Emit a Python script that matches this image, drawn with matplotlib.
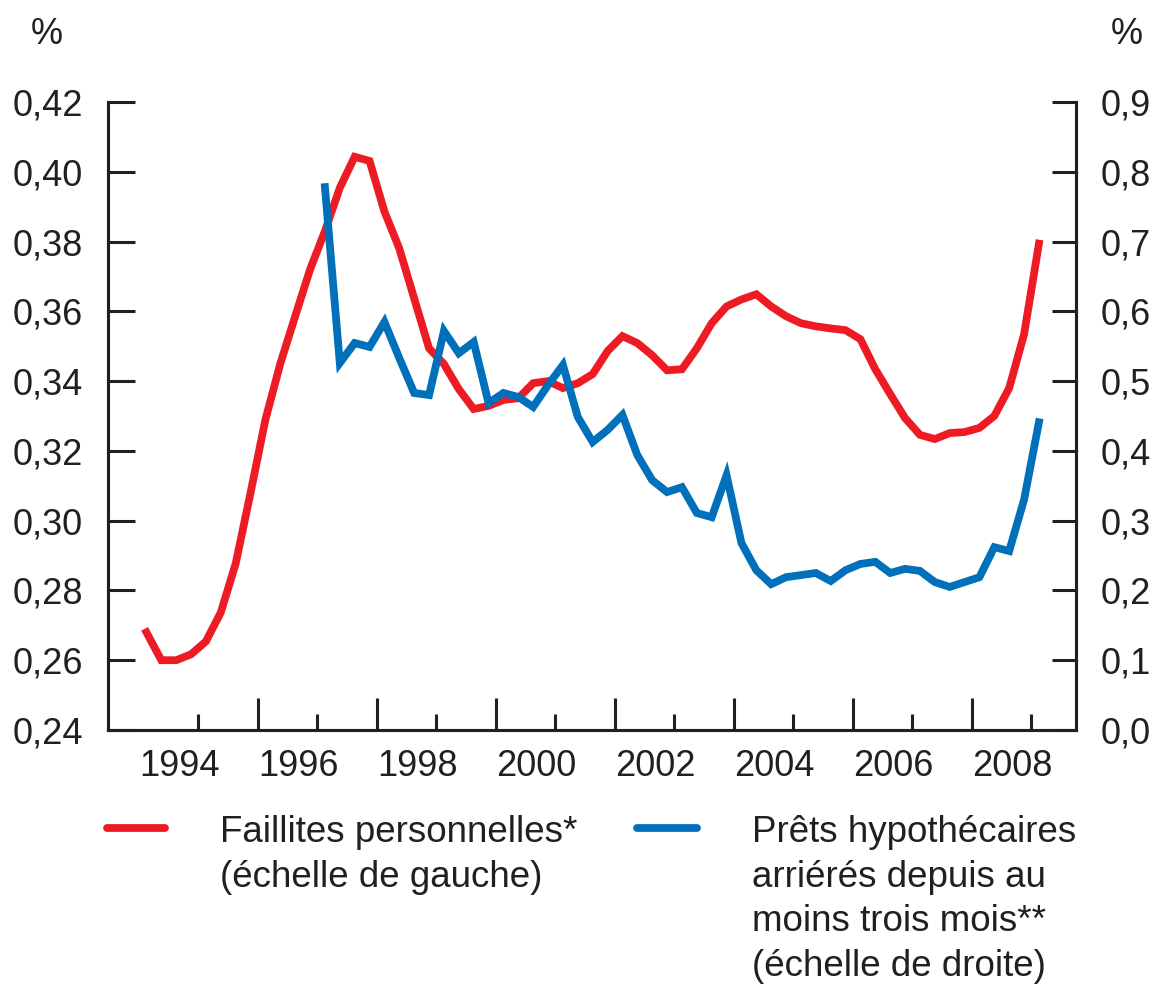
import matplotlib
matplotlib.use("Agg")
import matplotlib.pyplot as plt
from matplotlib.lines import Line2D
import numpy as np

plt.rcParams['font.family'] = ['Liberation Sans', 'DejaVu Sans']

# ---- data (quarterly, plotted at mid-quarter) ----
red_start = 1994.125   # 1994Q1
faillites = [0.268, 0.260, 0.260, 0.2617, 0.2654, 0.2737, 0.2877, 0.308,
             0.329, 0.345, 0.3586, 0.372, 0.383, 0.3954, 0.4043, 0.4031,
             0.3886, 0.378, 0.3637, 0.3494, 0.3449, 0.3377, 0.332, 0.3329,
             0.3346, 0.3351, 0.3394, 0.340, 0.338, 0.3394, 0.342, 0.3486,
             0.3529, 0.3509, 0.3474, 0.3431, 0.3434, 0.3494, 0.3566, 0.3614,
             0.3634, 0.3649, 0.3614, 0.3586, 0.3566, 0.3557, 0.3551, 0.3546,
             0.352, 0.3434, 0.3363, 0.3294, 0.3246, 0.3234, 0.3251, 0.3254,
             0.3266, 0.330, 0.338, 0.3534, 0.3794]

blue_start = 1997.125  # 1997Q1
prets = [0.778, 0.526, 0.5546, 0.549, 0.5847, 0.533, 0.483, 0.480,
         0.5718, 0.540, 0.556, 0.4686, 0.483, 0.4772, 0.463, 0.4944,
         0.523, 0.4486, 0.4127, 0.430, 0.4515, 0.394, 0.358, 0.341,
         0.348, 0.311, 0.305, 0.365, 0.268, 0.229, 0.209, 0.219,
         0.222, 0.225, 0.2135, 0.229, 0.238, 0.241, 0.225, 0.231,
         0.228, 0.212, 0.205, 0.212, 0.219, 0.262, 0.2565, 0.330, 0.441]

left_ticks = [0.24, 0.26, 0.28, 0.30, 0.32, 0.34, 0.36, 0.38, 0.40, 0.42]
left_labels = ["0,24", "0,26", "0,28", "0,30", "0,32", "0,34", "0,36", "0,38", "0,40", "0,42"]
right_ticks = [0.0, 0.1, 0.2, 0.3, 0.4, 0.5, 0.6, 0.7, 0.8, 0.9]
right_labels = ["0,0", "0,1", "0,2", "0,3", "0,4", "0,5", "0,6", "0,7", "0,8", "0,9"]
year_labels = [1994, 1996, 1998, 2000, 2002, 2004, 2006, 2008]
long_ticks = [1996, 1998, 2000, 2002, 2004, 2006, 2008]
short_ticks = [1995, 1997, 1999, 2001, 2003, 2005, 2007, 2009]

label_red = "Faillites personnelles*\n(échelle de gauche)"
label_blue = "Prêts hypothécaires\narriérés depuis au\nmoins trois mois**\n(échelle de droite)"

RED = "#ED1C24"
BLUE = "#0070BA"
INK = "#231f20"

x_red = red_start + 0.25 * np.arange(len(faillites))
x_blue = blue_start + 0.25 * np.arange(len(prets))

fig = plt.figure(figsize=(11.57, 9.86), dpi=100)
ax = fig.add_axes([108/1157, 1-730/986, (1076-108)/1157, (730-102)/986])
ax2 = ax.twinx()

LW = 5.6
ax.plot(x_red, faillites, color=RED, lw=LW, solid_joinstyle='miter', zorder=3)
ax2.plot(x_blue, prets, color=BLUE, lw=LW, solid_joinstyle='miter', zorder=3)

ax.set_xlim(1993.479, 2009.748)
ax.set_ylim(0.24, 0.42)
ax2.set_ylim(0.0, 0.9)

sw = 2.2
for a in (ax, ax2):
    a.spines['top'].set_visible(False)
    for s in ('left', 'right', 'bottom'):
        a.spines[s].set_linewidth(sw)
        a.spines[s].set_color(INK)

ax.set_yticks(left_ticks)
ax.set_yticklabels(left_labels)
ax.tick_params(axis='y', direction='in', length=19.5, width=sw, color=INK,
               labelsize=26, pad=18, labelcolor=INK)
ax2.set_yticks(right_ticks)
ax2.set_yticklabels(right_labels)
ax2.tick_params(axis='y', direction='in', length=17.5, width=sw, color=INK,
                labelsize=26, pad=18, labelcolor=INK)

ax.set_xticks(long_ticks)
ax.set_xticklabels([])
ax.set_xticks(short_ticks, minor=True)
ax.tick_params(axis='x', which='major', direction='in', length=23, width=sw, color=INK)
ax.tick_params(axis='x', which='minor', direction='in', length=11.5, width=sw, color=INK)

secx = ax.secondary_xaxis('bottom')
secx.set_xticks([y + 0.68 for y in year_labels])
secx.set_xticklabels([str(y) for y in year_labels])
secx.tick_params(axis='x', length=0, labelsize=26, pad=14, labelcolor=INK)
secx.spines['bottom'].set_visible(False)

fig.text(47/1157, 1-34/986, "%", fontsize=26, ha='center', va='center', color=INK)
fig.text(1127/1157, 1-34/986, "%", fontsize=26, ha='center', va='center', color=INK)

# legend
fig.add_artist(Line2D([107/1157, 165/1157], [1-828/986, 1-828/986], transform=fig.transFigure,
                      color=RED, lw=LW, solid_capstyle='round'))
fig.add_artist(Line2D([637/1157, 697/1157], [1-828/986, 1-828/986], transform=fig.transFigure,
                      color=BLUE, lw=LW, solid_capstyle='round'))
fig.text(220/1157, 1-815/986, label_red, fontsize=26.5, ha='left', va='top',
         linespacing=1.36, color=INK)
fig.text(752/1157, 1-815/986, label_blue, fontsize=26.5, ha='left', va='top',
         linespacing=1.36, color=INK)

fig.savefig("out.png", dpi=100)
